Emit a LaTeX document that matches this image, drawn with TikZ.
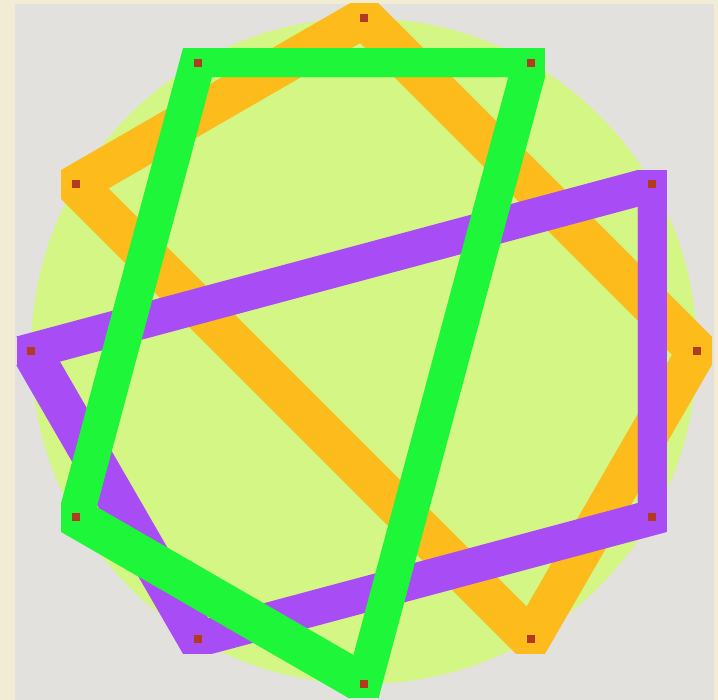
\documentclass[tikz,border=0pt]{standalone}
\usepackage{tikz}
\usetikzlibrary{calc,positioning}

\definecolor{parchment}{RGB}{243,236,212}
\definecolor{panelgray}{RGB}{226,225,222}
\definecolor{diskgreen}{RGB}{212,246,132}
\definecolor{bandorange}{RGB}{253,187,28}
\definecolor{bandpurple}{RGB}{168,76,245}
\definecolor{bandgreen}{RGB}{30,246,58}
\definecolor{vertexred}{RGB}{178,58,30}

% half side of the square pen
\newcommand{\penhalf}{14.5}
\newcommand{\bandedge}[3]{%
	\fill[#1] ($(#2)+(-\penhalf,-\penhalf)$) rectangle ($(#2)+(\penhalf,\penhalf)$);
	\fill[#1] ($(#2)+(\penhalf,\penhalf)$) -- ($(#3)+(\penhalf,\penhalf)$) -- ($(#3)+(-\penhalf,-\penhalf)$) -- ($(#2)+(-\penhalf,-\penhalf)$) -- cycle;
	\fill[#1] ($(#2)+(\penhalf,-\penhalf)$) -- ($(#3)+(\penhalf,-\penhalf)$) -- ($(#3)+(-\penhalf,\penhalf)$) -- ($(#2)+(-\penhalf,\penhalf)$) -- cycle;
}

\tikzset{vertex/.style={rectangle, fill=vertexred, inner sep=0pt, minimum size=8pt}}

\begin{document}
\begin{tikzpicture}[x=1pt, y=1pt]
	\fill[parchment] (0,0) rectangle (718,700);
	\fill[panelgray] (15,0) rectangle (714,696);

	\coordinate (origin) at (364,349);
	\fill[diskgreen] (origin) circle (333pt);

	% orange
	\coordinate (o1) at ($(origin) + (90:333)$);
	\coordinate (o2) at ($(origin) + (0:333)$);
	\coordinate (o3) at ($(origin) + (-60:333)$);
	\coordinate (o4) at ($(origin) + (150:333)$);
	% purple
	\coordinate (p1) at ($(origin) + (30:333)$);
	\coordinate (p2) at ($(origin) + (-30:333)$);
	\coordinate (p3) at ($(origin) + (-120:333)$);
	\coordinate (p4) at ($(origin) + (180:333)$);
	% green
	\coordinate (g1) at ($(origin) + (120:333)$);
	\coordinate (g2) at ($(origin) + (60:333)$);
	\coordinate (g3) at ($(origin) + (-90:333)$);
	\coordinate (g4) at ($(origin) + (-150:333)$);

	\begin{scope}
		\clip (15,0) rectangle (714,696);
		\foreach \a/\b in {o1/o2, o2/o3, o3/o4, o4/o1}
			{\bandedge{bandorange}{\a}{\b}}
		\foreach \a/\b in {p1/p2, p2/p3, p3/p4, p4/p1}
			{\bandedge{bandpurple}{\a}{\b}}
		\foreach \a/\b in {g1/g2, g2/g3, g3/g4, g4/g1}
			{\bandedge{bandgreen}{\a}{\b}}
	\end{scope}

	\foreach \v in {o1,o2,o3,o4,p1,p2,p3,p4,g1,g2,g3,g4}
		\node[vertex] (dot-\v) at (\v) {};
\end{tikzpicture}
\end{document}
